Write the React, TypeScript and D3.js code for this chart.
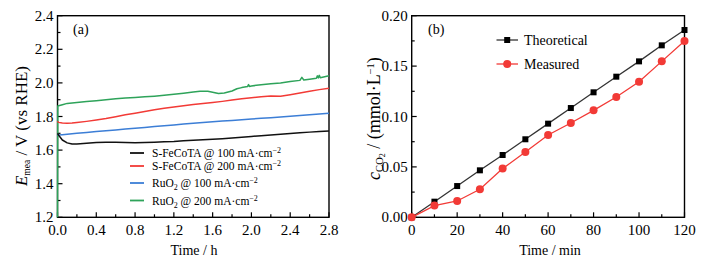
import React from "react";
import * as d3 from "d3";

// ---------- Panel (a) data ----------
const timeH = [0, 0.01, 0.05, 0.1, 0.15, 0.2, 0.3, 0.4, 0.5, 0.6, 0.7, 0.8, 0.9, 1.0, 1.1, 1.2, 1.3, 1.4, 1.5, 1.6, 1.7, 1.8, 1.9, 2.0, 2.1, 2.2, 2.3, 2.4, 2.5, 2.6, 2.7, 2.8];
const feco100 = [1.700, 1.690, 1.660, 1.643, 1.636, 1.637, 1.641, 1.645, 1.646, 1.647, 1.645, 1.644, 1.645, 1.647, 1.649, 1.651, 1.655, 1.659, 1.662, 1.665, 1.668, 1.672, 1.676, 1.681, 1.686, 1.690, 1.694, 1.699, 1.703, 1.707, 1.711, 1.714];
const feco200 = [1.772, 1.765, 1.761, 1.760, 1.761, 1.764, 1.771, 1.779, 1.788, 1.799, 1.810, 1.820, 1.830, 1.840, 1.849, 1.856, 1.864, 1.871, 1.877, 1.883, 1.890, 1.898, 1.905, 1.911, 1.918, 1.922, 1.921, 1.930, 1.940, 1.950, 1.960, 1.968];
const ruo100 = [1.690, 1.690, 1.692, 1.695, 1.698, 1.700, 1.705, 1.710, 1.715, 1.720, 1.725, 1.730, 1.735, 1.740, 1.745, 1.750, 1.755, 1.760, 1.765, 1.769, 1.773, 1.776, 1.780, 1.785, 1.789, 1.793, 1.797, 1.801, 1.806, 1.811, 1.815, 1.820];
const ruo200T = [0, 0.003, 0.05, 0.1, 0.2, 0.3, 0.4, 0.5, 0.6, 0.7, 0.8, 0.9, 1.0, 1.1, 1.2, 1.3, 1.4, 1.47, 1.55, 1.6, 1.66, 1.72, 1.8, 1.85, 1.9, 1.96, 1.97, 1.98, 2.0, 2.1, 2.2, 2.3, 2.4, 2.5, 2.52, 2.54, 2.6, 2.67, 2.68, 2.69, 2.7, 2.71, 2.8];
const ruo200 = [1.2, 1.862, 1.870, 1.878, 1.884, 1.889, 1.894, 1.899, 1.905, 1.910, 1.913, 1.917, 1.921, 1.926, 1.932, 1.939, 1.946, 1.951, 1.950, 1.944, 1.937, 1.940, 1.952, 1.965, 1.972, 1.978, 1.990, 1.979, 1.982, 1.989, 1.995, 2.000, 2.008, 2.015, 2.033, 2.017, 2.022, 2.028, 2.042, 2.030, 2.045, 2.031, 2.043];

const aXTicks = [0, 0.4, 0.8, 1.2, 1.6, 2.0, 2.4, 2.8];
const aYTicks = [1.2, 1.4, 1.6, 1.8, 2.0, 2.2, 2.4];

// ---------- Panel (b) data ----------
const timeMin = [0, 10, 20, 30, 40, 50, 60, 70, 80, 90, 100, 110, 120];
const theoretical = [0, 0.0155, 0.031, 0.0466, 0.0618, 0.0774, 0.0929, 0.1084, 0.124, 0.1395, 0.1547, 0.1706, 0.1858];
const measured = [0, 0.0116, 0.0162, 0.0278, 0.0483, 0.0648, 0.0817, 0.0936, 0.1061, 0.1193, 0.1345, 0.1547, 0.1749];
const bXTicks = [0, 20, 40, 60, 80, 100, 120];
const bYTicks = [0, 0.05, 0.1, 0.15, 0.2];

const FONT = '"Liberation Serif"';
const C_BLACK = "#111";
const C_RED = "#f23a36";
const C_BLUE = "#3c7ed6";
const C_GREEN = "#2ea35a";

type Pt = [number, number];

function T(props: any) {
  const { style, ...rest } = props;
  return <text {...rest} fontFamily={FONT} style={{ fontFamily: FONT, ...(style || {}) }} />;
}

function Axes({ x, y, xTicks, yTicks, xMinor, yMinor, xFmt, yFmt }: any) {
  const [x0, x1] = x.range();
  const [y0, y1] = y.range();
  return (
    <g>
      <rect x={x0} y={y1} width={x1 - x0} height={y0 - y1} fill="none" stroke="#000" strokeWidth={1.4} />
      {xTicks.map((t: number) => (
        <g key={"xt" + t}>
          <line x1={x(t)} x2={x(t)} y1={y0} y2={y0 - 5} stroke="#000" strokeWidth={1.2} />
          <T x={x(t)} y={y0 + 18} textAnchor="middle" fontSize={15}>{xFmt(t)}</T>
        </g>
      ))}
      {xMinor.map((t: number) => (
        <line key={"xm" + t} x1={x(t)} x2={x(t)} y1={y0} y2={y0 - 3} stroke="#000" strokeWidth={1.2} />
      ))}
      {yTicks.map((t: number) => (
        <g key={"yt" + t}>
          <line x1={x0} x2={x0 + 5} y1={y(t)} y2={y(t)} stroke="#000" strokeWidth={1.2} />
          <T x={x0 - 4} y={y(t) + 5} textAnchor="end" fontSize={15}>{yFmt(t)}</T>
        </g>
      ))}
      {yMinor.map((t: number) => (
        <line key={"ym" + t} x1={x0} x2={x0 + 3} y1={y(t)} y2={y(t)} stroke="#000" strokeWidth={1.2} />
      ))}
    </g>
  );
}

export default function App() {
  // Panel (a)
  const xa = d3.scaleLinear().domain([0, 2.8]).range([57.5, 329]);
  const ya = d3.scaleLinear().domain([1.2, 2.4]).range([217.3, 15.7]);
  const lineA = d3.line<Pt>().x((d) => xa(d[0])).y((d) => ya(d[1]));
  const mk = (ts: number[], vs: number[]): Pt[] => ts.map((t, i) => [t, vs[i]]);
  const seriesA = [
    { pts: mk(ruo200T, ruo200), color: C_GREEN },
    { pts: mk(timeH, ruo100), color: C_BLUE },
    { pts: mk(timeH, feco200), color: C_RED },
    { pts: mk(timeH, feco100), color: C_BLACK },
  ];

  // Panel (b)
  const xb = d3.scaleLinear().domain([0, 120]).range([411.7, 684.5]);
  const yb = d3.scaleLinear().domain([0, 0.2]).range([217.3, 15.7]);
  const lineB = d3.line<Pt>().x((d) => xb(d[0])).y((d) => yb(d[1]));
  const thPts = mk(timeMin, theoretical);
  const mePts = mk(timeMin, measured);

  const legendA = [
    { color: C_BLACK, y: 153, ru: false, cur: "100" },
    { color: C_RED, y: 166, ru: false, cur: "200" },
    { color: C_BLUE, y: 183, ru: true, cur: "100" },
    { color: C_GREEN, y: 200.5, ru: true, cur: "200" },
  ];

  return (
    <svg width={710} height={265} style={{ position: "absolute", left: 0, top: 0, background: "#fff" }}>
      {/* Panel (a) */}
      <Axes
        x={xa}
        y={ya}
        xTicks={aXTicks}
        yTicks={aYTicks}
        xMinor={aXTicks.slice(0, -1).map((t) => t + 0.2)}
        yMinor={aYTicks.slice(0, -1).map((t) => t + 0.1)}
        xFmt={d3.format(".1f")}
        yFmt={d3.format(".1f")}
      />
      {seriesA.map((s, i) => (
        <path key={i} d={lineA(s.pts) || ""} fill="none" stroke={s.color} strokeWidth={1.5} strokeLinejoin="round" />
      ))}
      <T x={73} y={34} fontSize={14}>(a)</T>
      {legendA.map((l, i) => (
        <g key={i}>
          <line x1={130} x2={144} y1={l.y} y2={l.y} stroke={l.color} strokeWidth={1.8} />
          <T x={152} y={l.y + 4} fontSize={11.5}>
            {l.ru ? (
              <>
                RuO<tspan fontSize={8} dy={3}>2</tspan>
                <tspan dy={-3}>{` @ ${l.cur} mA·cm`}</tspan>
              </>
            ) : (
              <>{`S-FeCoTA @ ${l.cur} mA·cm`}</>
            )}
            <tspan fontSize={8} dy={-4}>−2</tspan>
          </T>
        </g>
      ))}
      <T x={194} y={255} textAnchor="middle" fontSize={14}>Time / h</T>
      <T transform="translate(27,126) rotate(-90)" textAnchor="middle" fontSize={17}>
        <tspan fontStyle="italic">E</tspan>
        <tspan fontSize={9.5} dy={3}>mea</tspan>
        <tspan dy={-3}> / V (vs RHE)</tspan>
      </T>

      {/* Panel (b) */}
      <Axes
        x={xb}
        y={yb}
        xTicks={bXTicks}
        yTicks={bYTicks}
        xMinor={bXTicks.slice(0, -1).map((t) => t + 10)}
        yMinor={bYTicks.slice(0, -1).map((t) => t + 0.025)}
        xFmt={d3.format("d")}
        yFmt={d3.format(".2f")}
      />
      <path d={lineB(thPts) || ""} fill="none" stroke="#333" strokeWidth={1.3} />
      <path d={lineB(mePts) || ""} fill="none" stroke={C_RED} strokeWidth={1.3} />
      {thPts.map((d, i) => (
        <rect key={"s" + i} x={xb(d[0]) - 3} y={yb(d[1]) - 3} width={6} height={6} fill="#000" />
      ))}
      {mePts.map((d, i) => (
        <circle key={"c" + i} cx={xb(d[0])} cy={yb(d[1])} r={4} fill={C_RED} />
      ))}
      <T x={428} y={34} fontSize={14}>(b)</T>
      <line x1={496.5} x2={518} y1={40} y2={40} stroke="#333" strokeWidth={1.3} />
      <rect x={504.2} y={37} width={6} height={6} fill="#000" />
      <T x={524} y={45} fontSize={14}>Theoretical</T>
      <line x1={496.5} x2={518} y1={64} y2={64} stroke={C_RED} strokeWidth={1.3} />
      <circle cx={507.2} cy={64} r={4} fill={C_RED} />
      <T x={524} y={69} fontSize={14}>Measured</T>
      <T x={550} y={255} textAnchor="middle" fontSize={14}>Time / min</T>
      <T transform="translate(380,118.5) rotate(-90)" textAnchor="middle" fontSize={18}>
        <tspan fontStyle="italic">c</tspan>
        <tspan fontSize={10.5} dy={3}>CO</tspan>
        <tspan fontSize={8} dy={2}>2</tspan>
        <tspan dy={-5}> / (mmol·L</tspan>
        <tspan fontSize={10.5} dy={-6}>−1</tspan>
        <tspan dy={6}>)</tspan>
      </T>
    </svg>
  );
}
